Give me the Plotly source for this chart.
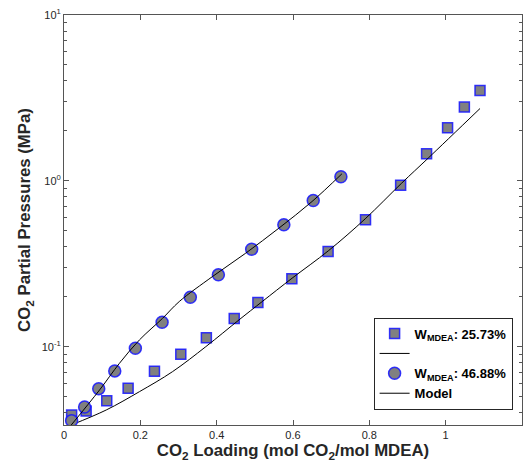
import plotly.graph_objects as go

# Data
sq_x = [0.020, 0.058, 0.112, 0.168, 0.237, 0.306, 0.373, 0.446, 0.508, 0.597, 0.692, 0.790, 0.882, 0.950, 1.005, 1.049, 1.090]
sq_y = [0.0387, 0.0409, 0.0472, 0.0561, 0.0711, 0.0900, 0.1133, 0.1476, 0.1848, 0.257, 0.3754, 0.5817, 0.942, 1.455, 2.088, 2.786, 3.508]

ci_x = [0.020, 0.054, 0.091, 0.133, 0.187, 0.257, 0.331, 0.4045, 0.4917, 0.576, 0.653, 0.7255]
ci_y = [0.0358, 0.0433, 0.0558, 0.0714, 0.0978, 0.1404, 0.1987, 0.271, 0.387, 0.5427, 0.760, 1.057]

m1_x = [0.019, 0.1107, 0.1975, 0.2845, 0.3716, 0.4585, 0.5193, 0.5976, 0.6934, 0.7891, 0.8847, 0.9543, 1.090]
m1_y = [0.0337, 0.0415, 0.0535, 0.0707, 0.100, 0.145, 0.187, 0.2587, 0.3797, 0.5897, 0.9685, 1.371, 2.73]

m2_x = [0.019, 0.0932, 0.1454, 0.1975, 0.2584, 0.3019, 0.3888, 0.476, 0.5629, 0.6498, 0.7281]
m2_y = [0.0337, 0.0548, 0.0794, 0.1097, 0.1483, 0.187, 0.2645, 0.366, 0.518, 0.750, 1.102]

x_ticks = [0, 0.2, 0.4, 0.6, 0.8, 1, 1.2]
x_ticktext = ["0", "0.2", "0.4", "0.6", "0.8", "1", "1.2"]
y_ticks = [0.1, 1, 10]
y_ticktext = ["10<sup>-1</sup>", "10<sup>0</sup>", "10<sup>1</sup>"]
y_minor = [0.04, 0.05, 0.06, 0.07, 0.08, 0.09, 0.2, 0.3, 0.4, 0.5, 0.6, 0.7, 0.8, 0.9,
           2, 3, 4, 5, 6, 7, 8, 9]

FONT = "Arial, Liberation Sans, Helvetica, sans-serif"
AX = "#555555"

fig = go.Figure()
fig.add_trace(go.Scatter(
    x=sq_x, y=sq_y, mode="markers", name="W<sub>MDEA</sub>: 25.73%",
    marker=dict(symbol="square", size=10, color="#808080",
                line=dict(color="rgba(20,20,255,0.85)", width=1.5))))
fig.add_trace(go.Scatter(
    x=m1_x, y=m1_y, mode="lines", name=" ", line_shape="spline",
    line=dict(color="black", width=1)))
fig.add_trace(go.Scatter(
    x=ci_x, y=ci_y, mode="markers", name="W<sub>MDEA</sub>: 46.88%",
    marker=dict(symbol="circle", size=12, color="#808080",
                line=dict(color="rgba(20,20,255,0.85)", width=1.5))))
fig.add_trace(go.Scatter(
    x=m2_x, y=m2_y, mode="lines", name="Model", line_shape="spline",
    line=dict(color="black", width=1)))

fig.update_layout(
    width=524, height=468,
    margin=dict(l=64, r=2, t=15, b=43),
    plot_bgcolor="white", paper_bgcolor="white",
    font=dict(family=FONT, size=11, color="#262626"),
    legend=dict(x=0.676, y=0.262, xanchor="left", yanchor="top",
                bgcolor="white", bordercolor="#262626", borderwidth=1,
                font=dict(family=FONT, size=13, color="black", weight="bold"),
                tracegroupgap=0, itemwidth=30),
    xaxis=dict(range=[0, 1.2], tickvals=x_ticks, ticktext=x_ticktext,
               ticks="inside", ticklen=5, tickcolor=AX,
               showline=True, linecolor=AX, linewidth=1, mirror="ticks",
               showgrid=False, zeroline=False,
               tickfont=dict(size=11, color="#262626"),
               title=dict(text="CO<sub>2</sub> Loading (mol CO<sub>2</sub>/mol MDEA)",
                          font=dict(size=16.8, color="#262626", weight="bold"), standoff=4)),
    yaxis=dict(type="log", range=[-1.4725, 1], tickvals=y_ticks, ticktext=y_ticktext,
               ticks="inside", ticklen=5, tickcolor=AX,
               minor=dict(tickvals=y_minor, ticks="inside", ticklen=3, tickcolor=AX, showgrid=False),
               showline=True, linecolor=AX, linewidth=1, mirror="ticks",
               showgrid=False, zeroline=False,
               tickfont=dict(size=11, color="#262626"),
               title=dict(text="CO<sub>2</sub> Partial Pressures (MPa)",
                          font=dict(size=16.8, color="#262626", weight="bold"), standoff=6)),
)

fig.write_html("out.html", config={"displayModeBar": False},
               post_script="document.body.style.margin='0';document.body.style.overflow='hidden';")
